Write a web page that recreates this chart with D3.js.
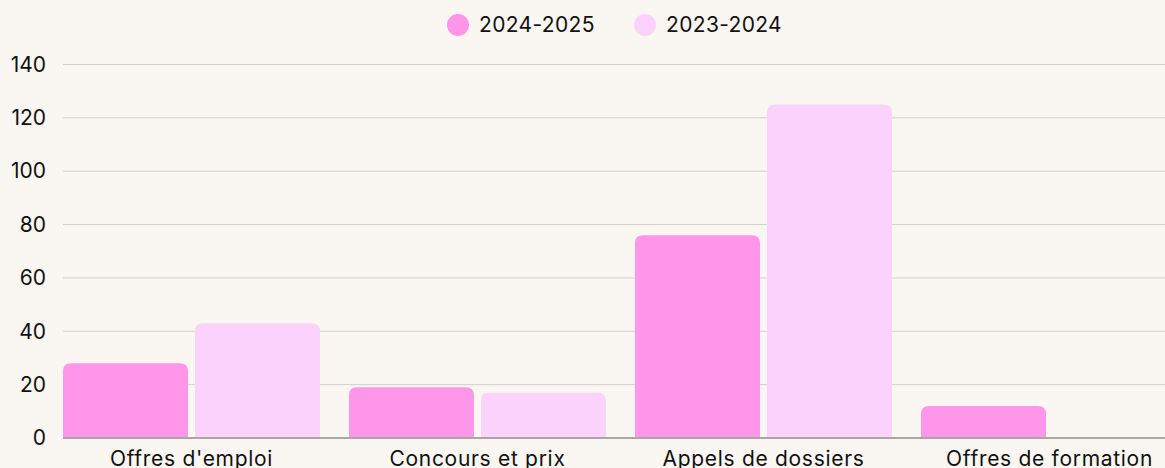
<!DOCTYPE html>
<html>
<head>
<meta charset="utf-8">
<script src="https://cdn.jsdelivr.net/npm/d3@7"></script>
<style>
    body { margin: 0; background: #faf7f2; overflow: hidden; }
    svg { display: block; font-family: Inter, "Noto Sans", sans-serif; }
</style>
</head>
<body>
<div id="chart"></div>
<script>
const categories = ["Offres d'emploi", "Concours et prix", "Appels de dossiers", "Offres de formation"];
const seriesNames = ["2024-2025", "2023-2024"];
const values2425 = [28, 19, 76, 12];
const values2324 = [43, 17, 125, 0];
const yTicks = [0, 20, 40, 60, 80, 100, 120, 140];
const colors = ["#ff96e9", "#fad2fb"];

const width = 1165, height = 468;
const svg = d3.select("#chart")
              .append("svg")
              .attr("width", width)
              .attr("height", height);

const rows = categories.map((c, i) => ({ cat: c, vals: [values2425[i], values2324[i]] }));

const x0 = d3.scaleBand()
             .domain(categories)
             .range([63, 1178])
             .paddingInner(0.1014)
             .paddingOuter(0);
const x1 = d3.scaleBand()
             .domain(seriesNames)
             .range([0, x0.bandwidth()])
             .paddingInner(0.053);
const y = d3.scaleLinear()
            .domain([0, 140])
            .range([438, 64.5]);

// gridlines
svg.append("g")
   .attr("class", "grid")
   .selectAll("line")
   .data(yTicks.filter((t) => t > 0))
   .join("line")
   .attr("x1", 63)
   .attr("x2", width)
   .attr("y1", (d) => y(d))
   .attr("y2", (d) => y(d))
   .style("stroke", "#d3cfca")
   .style("stroke-width", 1);

// y axis labels
const yAxis = svg.append("g")
                 .attr("transform", "translate(46,0)")
                 .call(d3.axisLeft(y).tickValues(yTicks).tickSize(0).tickPadding(0));
yAxis.select(".domain").remove();
yAxis.selectAll("text")
     .style("font-size", "21px")
     .style("font-family", "Inter, 'Noto Sans', sans-serif")
     .attr("fill", "#111");

// rounded top bar path
function barPath(x, yTop, w, h, r) {
    if (h <= 0) return "";
    r = Math.min(r, h, w / 2);
    return "M" + x + "," + (yTop + h) +
           "V" + (yTop + r) +
           "Q" + x + "," + yTop + " " + (x + r) + "," + yTop +
           "H" + (x + w - r) +
           "Q" + (x + w) + "," + yTop + " " + (x + w) + "," + (yTop + r) +
           "V" + (yTop + h) + "Z";
}

svg.append("g")
   .attr("class", "bars")
   .selectAll("g")
   .data(rows)
   .join("g")
   .attr("transform", (d) => "translate(" + x0(d.cat) + ",0)")
   .selectAll("path")
   .data((d) => d.vals.map((v, i) => ({ key: seriesNames[i], v: v, i: i })))
   .join("path")
   .attr("d", (d) => barPath(x1(d.key), y(d.v), x1.bandwidth(), y(0) - y(d.v), 8))
   .style("fill", (d) => colors[d.i]);

// baseline
svg.append("line")
   .attr("x1", 63)
   .attr("x2", width)
   .attr("y1", y(0))
   .attr("y2", y(0))
   .style("stroke", "#aaa6a2")
   .style("stroke-width", 2);

// x axis labels
const xAxis = svg.append("g")
                 .attr("transform", "translate(0," + y(0) + ")")
                 .call(d3.axisBottom(x0).tickSize(0).tickPadding(13));
xAxis.select(".domain").remove();
xAxis.selectAll("text")
     .style("font-size", "21px")
     .style("letter-spacing", "0.7px")
     .style("font-family", "Inter, 'Noto Sans', sans-serif")
     .attr("fill", "#111");

// legend
const legend = svg.append("g")
                  .attr("class", "legend")
                  .selectAll("g")
                  .data(seriesNames)
                  .join("g")
                  .attr("transform", (d, i) => "translate(" + (458 + i * 187) + ",25)");
legend.append("circle")
      .attr("r", 11)
      .style("fill", (d, i) => colors[i]);
legend.append("text")
      .attr("x", 21)
      .attr("dy", "0.35em")
      .style("font-size", "21px")
      .style("letter-spacing", "0.35px")
      .attr("fill", "#111")
      .text((d) => d);
</script>
</body>
</html>
